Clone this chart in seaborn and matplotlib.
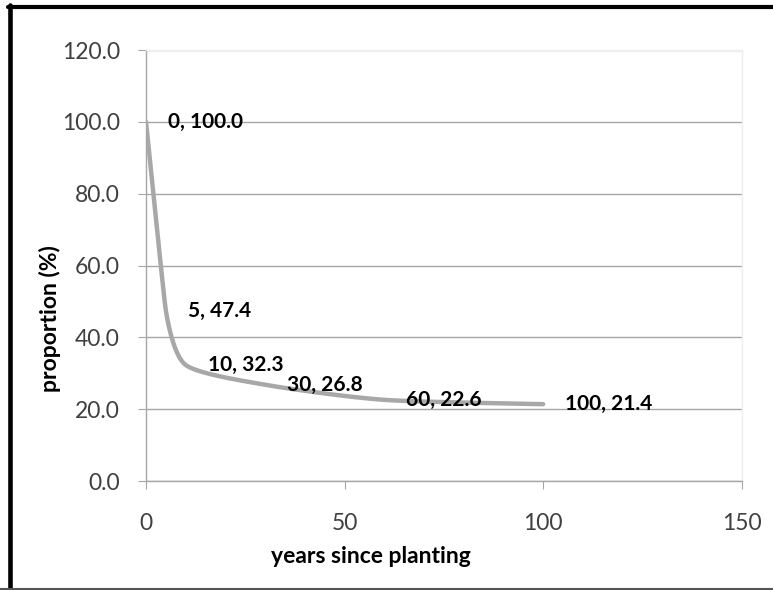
import numpy as np
import matplotlib
matplotlib.use("Agg")
import matplotlib.pyplot as plt
from matplotlib.lines import Line2D
import seaborn as sns

# data
years = [0, 5, 10, 30, 60, 100]
proportion = [100.0, 47.4, 32.3, 26.8, 22.6, 21.4]
x_ticks = [0, 50, 100, 150]
y_ticks = [0, 20, 40, 60, 80, 100, 120]


def smooth_curve(ax, x, y, n=60):
    # excel-like "smoothed line": bezier segments worked out in screen space,
    # tangents shortened where neighbouring segments differ a lot in length
    p = ax.transData.transform(np.column_stack([x, y]).astype(float))
    p_ext = np.vstack([p[0], p, p[-1]])
    t = np.linspace(0, 1, n)[:, None]

    def tangent(i):
        a, b, c = p_ext[i], p_ext[i + 1], p_ext[i + 2]
        d1, d2 = np.hypot(*(b - a)), np.hypot(*(c - b))
        k = 1.0 if min(d1, d2) == 0 else min(d1, d2) / max(d1, d2)
        return (c - a) / 6 * k

    out = []
    for i in range(len(p) - 1):
        p1, p2 = p_ext[i + 1], p_ext[i + 2]
        c1 = p1 + tangent(i)
        c2 = p2 - tangent(i + 1)
        seg = (1 - t) ** 3 * p1 + 3 * (1 - t) ** 2 * t * c1 + 3 * (1 - t) * t ** 2 * c2 + t ** 3 * p2
        out.append(seg if i == 0 else seg[1:])
    return ax.transData.inverted().transform(np.vstack(out))


sns.set_style("white")
plt.rcParams['font.family'] = ['Lato', 'DejaVu Sans']

fig = plt.figure(figsize=(7.73, 5.90), dpi=100)
ax = fig.add_axes([0.1889, 0.1847, 0.7706, 0.7305])
ax.set_xlim(0, 150)
ax.set_ylim(0, 120)

curve = smooth_curve(ax, years, proportion)
sns.lineplot(x=curve[:, 0], y=curve[:, 1], sort=False, estimator=None,
             color='#A8A8A8', linewidth=3.2, ax=ax)

for xv, yv in zip(years, proportion):
    ax.annotate(f"{xv}, {yv:.1f}", (xv, yv), xytext=(15.8, 0), textcoords='offset points',
                ha='left', va='center', fontsize=15, fontweight='bold', color='black')

ax.set_xticks(x_ticks)
ax.set_yticks(y_ticks)
ax.set_yticklabels([f"{v:.1f}" for v in y_ticks])
ax.yaxis.grid(True, color='#A6A6A6', linewidth=1.0)
ax.xaxis.grid(False)
ax.set_axisbelow(True)

ax.tick_params(axis='y', direction='out', length=5.8, width=0.8, color='#A6A6A6',
               pad=13, labelsize=16.5, labelcolor='#404040', left=True)
ax.tick_params(axis='x', direction='out', length=5.8, width=0.8, color='#A6A6A6',
               pad=17, labelsize=16.5, labelcolor='#404040', bottom=True)

for side in ['left', 'bottom']:
    ax.spines[side].set_color('#A6A6A6')
    ax.spines[side].set_linewidth(1.0)
for side in ['top', 'right']:
    ax.spines[side].set_color('#EEEEEE')
    ax.spines[side].set_linewidth(1.0)

ax.set_xlabel('years since planting', fontsize=16.5, fontweight='bold', color='black')
ax.set_ylabel('proportion (%)', fontsize=16.5, fontweight='bold', color='black')
ax.xaxis.set_label_coords(0.378, -0.176)
ax.xaxis.label.set_va('center')
ax.yaxis.set_label_coords(-0.161, 0.378)
ax.yaxis.label.set_va('center')

# outer frame of the original picture
fig.add_artist(Line2D([8 / 773, 1], [0.9881, 0.9881], transform=fig.transFigure,
                      color='black', linewidth=3))
fig.add_artist(Line2D([0.0129, 0.0129], [0, 0.9915], transform=fig.transFigure,
                      color='black', linewidth=3.3))
fig.add_artist(Line2D([0, 1], [0.0017, 0.0017], transform=fig.transFigure,
                      color='#555555', linewidth=1.5))

fig.savefig('out.png', dpi=100)
